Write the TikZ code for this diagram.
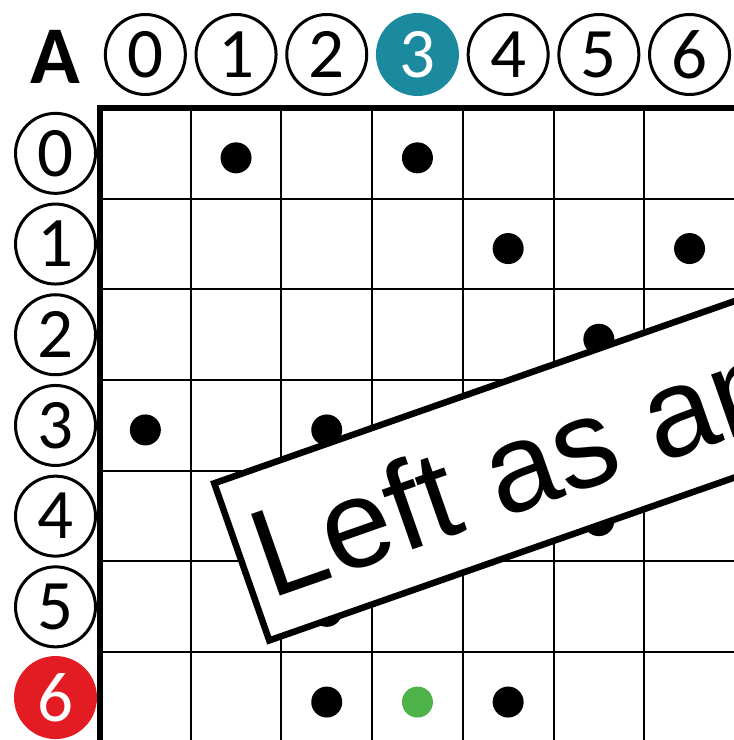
\documentclass[tikz,border=0pt]{standalone}
\usepackage{fontspec}
\setmainfont{Carlito}
\newfontfamily\cartellofont{Liberation Sans}
\definecolor{ottanio}{RGB}{27,138,158}
\definecolor{rosso}{RGB}{227,27,35}
\definecolor{verde}{RGB}{77,178,72}
\tikzset{
  num/.style={circle, draw, line width=3pt, minimum size=80pt, inner sep=0pt,
    font=\fontsize{71}{71}\selectfont},
  numsel/.style={num, draw=none, fill=#1, text=white, minimum size=83pt},
  cartello/.style={draw, fill=white, line width=6.5pt, rotate=19.3, anchor=north west,
    minimum height=166.5pt, inner xsep=14.5pt, inner ysep=0pt,
    text height=90pt, text depth=0pt,
    font=\cartellofont\fontsize{125.7}{126}\selectfont}
}
\begin{document}
\begin{tikzpicture}[x=1pt, y=1pt]
  \useasboundingbox (0,0) rectangle (734,740);
  \clip (0,0) rectangle (734,740);
  % Griglia
  \foreach \k in {1,...,6} {
    \draw[line width=2pt] (100+90.7*\k,-5) -- (100+90.7*\k,632);
    \draw[line width=2pt] (100,632-90.7*\k) -- (740,632-90.7*\k);
  }
  \draw[line width=6.5pt] (100,-5) -- (100,632) -- (740,632);
  % Punti
  \foreach \r/\c in {0/1,0/3,1/4,1/6,2/5,3/0,3/2,4/5,5/2,6/2,6/4}
    \fill (145.35+90.7*\c,582.15-90.7*\r) circle (15.5pt);
  \fill[verde] (145.35+90.7*3,582.15-90.7*6) circle (15.5pt);
  % Etichette
  \node[font=\bfseries\fontsize{82}{82}\selectfont] (lettera) at (55,683) {A};
  \foreach \c in {0,1,2,4,5,6}
    \node[num] (col\c) at (145.35+90.7*\c,685.5) {\c};
  \node[numsel=ottanio] (col3) at (417.45,685.5) {3};
  \foreach \r in {0,...,5}
    \node[num] (riga\r) at (55.5,586.65-90.7*\r) {\r};
  \node[numsel=rosso] (riga6) at (55.5,42.45) {6};
  % Cartello
  \node[cartello] (cartello) at (210.1,258.7) {Left as an exercise};
\end{tikzpicture}
\end{document}
